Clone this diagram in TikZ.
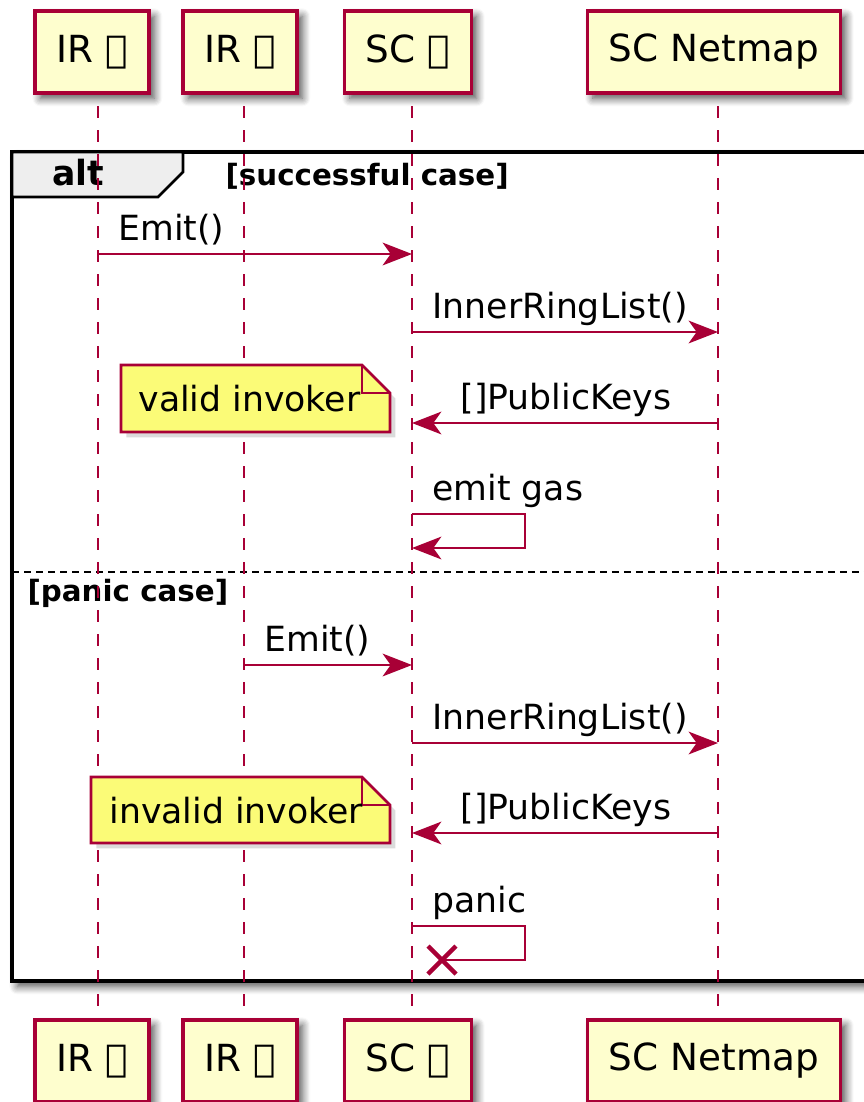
\documentclass[tikz,border=0pt]{standalone}
\usepackage{fontspec}
\setmainfont{DejaVu Sans}
\usetikzlibrary{arrows.meta,shadows,shadows.blur}

\definecolor{umlred}{HTML}{A80036}
\definecolor{umlbox}{HTML}{FEFECE}
\definecolor{umlnote}{HTML}{FBFB77}
\definecolor{umltab}{HTML}{EEEEEE}

\tikzset{
	shade/.style = {blur shadow={shadow xshift=2pt, shadow yshift=-2pt, shadow blur radius=3pt, shadow blur steps=8, shadow opacity=70}},
	actor/.style = {draw=umlred, fill=umlbox, line width=1.2pt, shade, minimum height=30.75pt, inner xsep=8pt, font=\fontsize{14}{17}\selectfont},
	lifeline/.style = {umlred, line width=1pt, dash pattern=on 4.5pt off 4.5pt},
	msg/.style = {umlred, line width=1pt, -{Stealth[length=11pt, width=8.5pt, inset=3pt]}},
	lbl/.style = {anchor=base west, inner sep=0pt, font=\fontsize{13}{16}\selectfont},
	notebox/.style = {draw=umlred, fill=umlnote, line width=1pt, drop shadow={shadow xshift=2pt, shadow yshift=-2pt, opacity=0.28}},
	guard/.style = {anchor=base west, inner sep=0pt, font=\bfseries\fontsize{11}{13}\selectfont},
}

\begin{document}
\begin{tikzpicture}[x=0.375pt, y=-0.375pt]
	\useasboundingbox (0,0) rectangle (863,1102);
	
	% participants
	\node[actor] (irAz) at (92,52) {IR ⰰ};
	\node[actor] (irBuky) at (240,52) {IR ⰱ};
	\node[actor] (scAz) at (408,52) {SC ⰰ};
	\node[actor] (scNetmap) at (714,52) {SC Netmap};
	\node[actor] (irAz-end) at (92,1061) {IR ⰰ};
	\node[actor] (irBuky-end) at (240,1061) {IR ⰱ};
	\node[actor] (scAz-end) at (408,1061) {SC ⰰ};
	\node[actor] (scNetmap-end) at (714,1061) {SC Netmap};
	
	% alt frame
	\filldraw[draw=black, fill=white, line width=1.5pt, shade] (12,152) rectangle (872,981);
	\filldraw[draw=black, fill=umltab, line width=1pt] (12,152) -- (183,152) -- (183,172) -- (158,197) -- (12,197) -- cycle;
	\node[anchor=base west, inner sep=0pt, font=\bfseries\fontsize{13}{16}\selectfont] (altLbl) at (52,185) {alt};
	\node[guard] (okLbl) at (225,185) {[successful case]};
	\draw[line width=1pt, dash pattern=on 2.6pt off 1.9pt] (12,572) -- (872,572);
	\node[guard] (panicLbl) at (27,601) {[panic case]};
	
	% lifelines
	\coordinate (lAz) at (98,106);
	\coordinate (lBuky) at (244,106);
	\coordinate (lSc) at (412,106);
	\coordinate (lNet) at (718,106);
	\foreach \l in {lAz, lBuky, lSc, lNet}
		\draw[lifeline] (\l) -- (\l |- 0,1021);
	
	% successful case
	\draw[msg] (lAz |- 0,254) -- (lSc |- 0,254);
	\node[lbl] (m1) at (118,240) {Emit()};
	\draw[msg] (lSc |- 0,332) -- (lNet |- 0,332);
	\node[lbl] (m2) at (432,318) {InnerRingList()};
	\draw[msg] (lNet |- 0,423) -- (lSc |- 0,423);
	\node[lbl] (m3) at (460,409) {[]PublicKeys};
	\filldraw[notebox] (121,365) -- (362,365) -- (390,393) -- (390,432) -- (121,432) -- cycle;
	\draw[umlred, line width=1pt] (362,365) -- (362,393) -- (390,393);
	\node[lbl] (n1) at (138,411) {valid invoker};
	\draw[msg] (lSc |- 0,514) -- (525,514) -- (525,548) -- (lSc |- 0,548);
	\node[lbl] (m4) at (432,500) {emit gas};
	
	% panic case
	\draw[msg] (lBuky |- 0,665) -- (lSc |- 0,665);
	\node[lbl] (m5) at (264,651) {Emit()};
	\draw[msg] (lSc |- 0,743) -- (lNet |- 0,743);
	\node[lbl] (m6) at (432,729) {InnerRingList()};
	\draw[msg] (lNet |- 0,833) -- (lSc |- 0,833);
	\node[lbl] (m7) at (460,819) {[]PublicKeys};
	\filldraw[notebox] (91,777) -- (362,777) -- (390,805) -- (390,843) -- (91,843) -- cycle;
	\draw[umlred, line width=1pt] (362,777) -- (362,805) -- (390,805);
	\node[lbl] (n2) at (109,823) {invalid invoker};
	\coordinate (kill) at (442,960);
	\draw[umlred, line width=1pt] (lSc |- 0,926) -- (525,926) -- (525,960) -- (kill);
	\draw[umlred, line width=1.6pt] ($(kill)+(-14,-14)$) -- ++(28,28) ($(kill)+(-14,14)$) -- ++(28,-28);
	\node[lbl] (m8) at (432,912) {panic};
\end{tikzpicture}
\end{document}
